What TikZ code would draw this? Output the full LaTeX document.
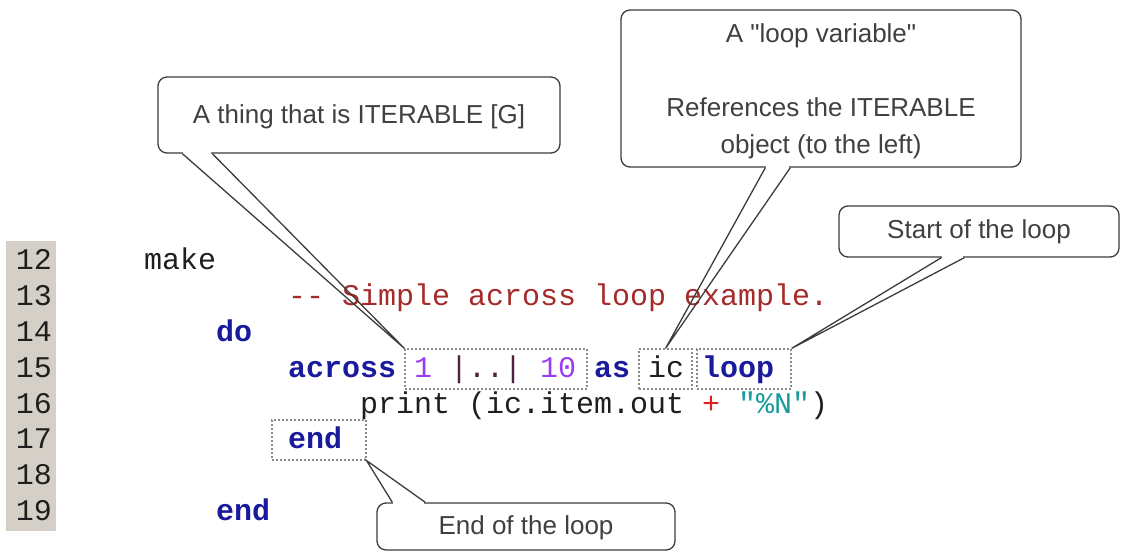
\documentclass[tikz,border=0pt]{standalone}
\usepackage{fontspec}
\setmainfont{Liberation Sans}[Ligatures=TeXOff]
\setmonofont{Liberation Mono}
\usetikzlibrary{calc}
\definecolor{gutter}{HTML}{D4D0C8}
\definecolor{kw}{HTML}{1A1A9C}
\definecolor{cmt}{HTML}{A52A2A}
\definecolor{num}{HTML}{9A3CF0}
\definecolor{opr}{HTML}{502040}
\definecolor{plus}{HTML}{E02020}
\definecolor{str}{HTML}{1A9A9A}
\definecolor{ink}{HTML}{1E1E1E}
\definecolor{cline}{HTML}{3C3C3C}
\definecolor{ctext}{HTML}{404040}
\definecolor{dotbox}{HTML}{8A8A8A}
\begin{document}
\begin{tikzpicture}[x=1pt,y=-1pt,
 code/.style={anchor=mid west, inner sep=0pt, yshift=-6pt, font=\fontsize{30}{36}\selectfont\ttfamily, text=ink},
 kwd/.style={code, font=\fontsize{30}{36}\selectfont\ttfamily\bfseries, text=kw},
 lnum/.style={anchor=mid, inner sep=0pt, yshift=-6pt, font=\fontsize{30}{36}\selectfont\ttfamily, text=ink},
 codebox/.style={draw=dotbox, line width=1.2pt, dash pattern=on 2pt off 2pt, inner sep=0pt},
 callout/.style={draw=cline, fill=white, line width=1.3pt, rounded corners=9pt, inner sep=0pt,
   font=\fontsize{26}{37}\selectfont, text=ctext, align=center},
 ctxt/.style={inner sep=0pt, font=\fontsize{26}{37}\selectfont, text=ctext, align=center},
 tail/.style={draw=cline, line width=1.3pt, line join=miter},
 gap/.style={draw=white, line width=2.4pt}
]
\useasboundingbox (0,0) rectangle (1124,552);

% gutter with line numbers
\fill[gutter] (6,241) rectangle (56,531);
\foreach \n [count=\i from 0] in {12,...,19}
  \node[lnum] (ln\n) at (34, 261+\i*35.86) {\n};

% code
\node[code] (make) at (144,261) {make};
\node[code, text=cmt] (comment) at (288,297) {-{}- Simple across loop example.};
\node[kwd] (do) at (216,333) {do};
\node[kwd] (across) at (288,369) {across};
\node[code, text=num] (one) at (414,369) {1};
\node[code, text=opr] (range) at (450,369) {|..|};
\node[code, text=num] (ten) at (540,369) {10};
\node[kwd] (as) at (594,369) {as};
\node[code] (ic) at (648,369) {ic};
\node[kwd] (loop) at (702,369) {loop};
\node[code] (print) at (360,405) {print (ic.item.out};
\node[code, text=plus] (plus) at (702,405) {+};
\node[code, text=str] (str) at (738,405) {"\%N"};
\node[code] (close) at (810,405) {)};
\node[kwd] (end1) at (288,440) {end};
\node[kwd] (end2) at (216,512) {end};

% dotted highlight boxes
\node[codebox, minimum width=182pt, minimum height=40pt] (bIter) at (496,369) {};
\node[codebox, minimum width=53pt, minimum height=40pt] (bIc) at (665.5,369) {};
\node[codebox, minimum width=94pt, minimum height=40pt] (bLoop) at (744,369) {};
\node[codebox, minimum width=94pt, minimum height=40pt] (bEnd) at (319,440) {};

% callouts
\node[callout, minimum width=402pt, minimum height=76pt] (c1) at (359,115) {};
\node[ctxt] (t1) at (359,117) {A thing that is ITERABLE [G]};
\node[callout, minimum width=400pt, minimum height=157pt] (c2) at (821,88.5) {};
\node[ctxt] (t2) at (821,91)
  {A "loop variable"\\[37pt]References the ITERABLE\\object (to the left)};
\node[callout, minimum width=280pt, minimum height=51pt] (c3) at (979,231.5) {};
\node[ctxt] (t3) at (979,232) {Start of the loop};
\node[callout, minimum width=298pt, minimum height=47pt] (c4) at (526,526.5) {};
\node[ctxt] (t4) at (526,528) {End of the loop};

% tails
\coordinate (c1a) at ($(c1.south west)+(25,0)$);
\coordinate (c1b) at ($(c1.south west)+(55,0)$);
\coordinate (c2a) at ($(c2.south west)+(145,0)$);
\coordinate (c2b) at ($(c2.south west)+(170,0)$);
\coordinate (c3a) at ($(c3.south west)+(103,0)$);
\coordinate (c3b) at ($(c3.south west)+(126,0)$);
\coordinate (c4a) at ($(c4.north west)+(16,0)$);
\coordinate (c4b) at ($(c4.north west)+(49,0)$);

\draw[gap] ($(c1a)+(1,0)$) -- ($(c1b)+(-1,0)$);
\draw[gap] ($(c2a)+(1,0)$) -- ($(c2b)+(-1,0)$);
\draw[gap] ($(c3a)+(1,0)$) -- ($(c3b)+(-1,0)$);
\draw[gap] ($(c4a)+(1,0)$) -- ($(c4b)+(-1,0)$);

\draw[tail] (c1a) -- (bIter.north west) -- (c1b);
\draw[tail] (c2a) -- (bIc.north) -- (c2b);
\draw[tail] (c3a) -- (bLoop.north east) -- (c3b);
\draw[tail] (c4a) -- (bEnd.south east) -- (c4b);
\end{tikzpicture}
\end{document}
